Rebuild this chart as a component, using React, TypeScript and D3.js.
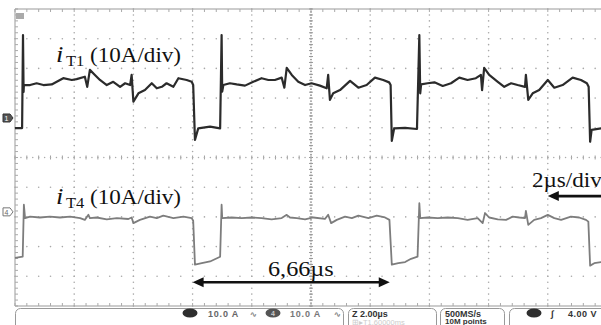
import React from 'react'
import * as d3 from 'd3'

// scope settings: 2 µs/div over 10 divisions, 10 A/div, 10 vertical divisions
const timeSpan = [0, 20]
const divSpan = [-5, 5]
const ampsPerDiv = 10

// ground markers of the two channels, in divisions from the centre line
const ch1Ground = 1.33
const ch4Ground = -1.83

// i_T1 samples: [time µs, current A]
const iT1: [number, number][] = [
  [0, -3.4], [0.24, -3.4], [0.27, 27.9], [0.29, 8.8], [0.3, 11.1], [0.51, 11.1], [0.73, 11.7], [0.96, 11.1],
  [1.24, 11.3], [1.41, 12.2], [1.63, 13.4], [1.92, 12.8], [2.08, 13.1], [2.36, 13.9], [2.44, 10.5], [2.53, 16.2],
  [2.7, 14.5], [2.87, 12.8], [3.1, 11.1], [3.32, 12.2], [3.55, 10.5], [3.72, 11.7], [3.89, 11.1], [3.94, 14.5],
  [4.0, 5.5], [4.17, 8.3], [4.39, 9.4], [4.62, 11.7], [4.79, 10.0], [4.96, 10.5], [5.12, 11.7], [5.35, 10.5],
  [5.52, 13.4], [5.8, 12.8], [5.97, 12.2], [6.02, 11.1], [6.08, -7.4], [6.19, -3.5], [6.59, -2.9], [6.93, -3.5],
  [6.98, 27.9], [7.0, 8.9], [7.04, 11.1], [7.26, 11.7], [7.49, 11.3], [7.77, 10.9], [8.05, 12.2], [8.33, 13.4],
  [8.56, 12.8], [8.78, 12.8], [9.01, 13.6], [9.1, 10.2], [9.18, 16.9], [9.35, 14.5], [9.57, 12.2], [9.8, 11.1],
  [10.02, 11.7], [10.3, 10.9], [10.53, 10.0], [10.58, 14.5], [10.64, 6.1], [10.75, 8.3], [10.98, 9.4], [11.32, 12.5],
  [11.6, 10.2], [11.88, 11.1], [12.16, 13.6], [12.44, 12.8], [12.64, 12.0], [12.69, 11.1], [12.73, -7.7], [12.81, -3.5],
  [13.18, -3.3], [13.58, -3.7], [13.66, 27.9], [13.69, 8.3], [13.72, 11.3], [13.94, 11.7], [14.17, 12.0], [14.45, 10.8],
  [14.73, 11.7], [15.01, 13.6], [15.29, 12.8], [15.57, 13.4], [15.74, 14.5], [15.78, 9.4], [15.85, 16.9], [16.02, 14.5],
  [16.31, 12.2], [16.53, 10.5], [16.76, 11.7], [16.98, 11.1], [17.23, 10.5], [17.26, 14.5], [17.34, 6.1], [17.49, 8.3],
  [17.71, 9.4], [18.0, 12.8], [18.22, 10.2], [18.5, 11.1], [18.84, 13.6], [19.12, 12.8], [19.32, 11.7], [19.38, 10.5],
  [19.43, -8.0], [19.48, -4.0], [19.8, -3.5], [20, -3.5],
]

// i_T4 samples: [time µs, current A]
const iT4: [number, number][] = [
  [0, -15.5], [0.26, -15.1], [0.3, 2.4], [0.34, -2.1], [0.51, -1.6], [0.84, -1.9], [1.18, -1.6], [1.52, -1.9],
  [1.86, -1.6], [2.2, -2.1], [2.36, -2.7], [2.48, -1.0], [2.53, -2.1], [2.76, -1.9], [3.1, -2.5], [3.44, -2.1],
  [3.83, -2.4], [3.94, -1.9], [4.0, -3.8], [4.22, -2.7], [4.56, -1.6], [4.79, -2.1], [5.01, -1.3], [5.35, -2.1],
  [5.69, -1.6], [5.97, -2.1], [6.02, -3.0], [6.08, -17.8], [6.31, -17.3], [6.59, -16.7], [6.93, -15.1],
  [6.98, 2.4], [7.0, -2.1], [7.32, -1.9], [7.66, -2.1], [8.0, -1.9], [8.33, -2.1], [8.67, -2.5], [9.01, -2.1],
  [9.18, -1.0], [9.29, -1.9], [9.52, -2.1], [9.8, -2.5], [10.08, -1.9], [10.47, -2.4], [10.58, -1.0], [10.68, -3.8],
  [10.87, -2.7], [11.15, -1.6], [11.38, -2.1], [11.6, -1.3], [11.94, -2.1], [12.22, -1.3], [12.5, -1.9], [12.65, -2.7],
  [12.73, -17.8], [12.95, -17.3], [13.18, -16.9], [13.38, -15.8], [13.6, -15.1],
  [13.66, 2.9], [13.69, -2.1], [13.94, -1.9], [14.28, -2.1], [14.62, -1.9], [14.96, -2.1], [15.29, -2.7], [15.63, -2.1],
  [15.8, -3.8], [15.88, -0.4], [16.02, -1.9], [16.31, -2.5], [16.59, -2.7], [16.81, -1.6], [17.04, -1.9], [17.23, -2.1],
  [17.26, 0.3], [17.34, -4.4], [17.54, -2.7], [17.77, -2.1], [18.0, -1.0], [18.22, -2.1], [18.45, -2.7], [18.78, -1.6],
  [19.06, -1.9], [19.29, -2.7], [19.37, -3.3], [19.43, -18.1], [19.57, -17.3], [19.8, -16.9], [20, -16.9],
]

// annotations: measured period and the 2 µs/div bar (µs)
const periodMarks = [6.0, 12.66]
const periodLabel = '6,66µs'
const scaleMarks = [18.0, 20.2]
const scaleLabel = '2µs/div'

const serif = '"Liberation Serif", "Times New Roman", serif'
const sans = '"Liberation Sans", Arial, sans-serif'

function Label({ x, y, size, italic = false, children }: any) {
  return (
    <g transform={`translate(${x},${y}) scale(1.1,1)`}>
      <text fontFamily={serif} fontSize={size} fontStyle={italic ? 'italic' : 'normal'} fill="#111">{children}</text>
    </g>
  )
}

function Arrow({ x1, x2, y }: { x1: number; x2: number; y: number }) {
  const h = 11, w = 5
  return (
    <g fill="#111" stroke="#111">
      <line x1={x1 + 4} x2={x2 - 4} y1={y} y2={y} strokeWidth={2.6} />
      <polygon stroke="none" points={`${x1},${y} ${x1 + h},${y - w} ${x1 + h},${y + w}`} />
      <polygon stroke="none" points={`${x2},${y} ${x2 - h},${y - w} ${x2 - h},${y + w}`} />
    </g>
  )
}

export default function App() {
  const width = 601
  const height = 325
  const x = d3.scaleLinear().domain(timeSpan).range([15, 607])
  const y = d3.scaleLinear().domain(divSpan).range([306, 9])

  const trace = (ground: number) =>
    d3.line<[number, number]>()
      .x(d => x(d[0]))
      .y(d => y(ground + d[1] / ampsPerDiv))

  const majorX = d3.range(0, 11).map(i => timeSpan[0] + i * 2)
  const majorY = d3.range(-5, 6)
  const minorT = d3.range(0, 51).map(k => k * 0.4)
  const minorD = d3.range(-25, 26).map(k => k / 5)
  const fineD = d3.range(-50, 51).map(k => k / 10)

  const gridColor = '#a8a8a8'

  const grid: React.ReactNode[] = []
  majorX.forEach((t, i) => {
    const gx = x(t)
    if (i === 0) {
      grid.push(<line key={`fx${i}`} x1={gx} x2={gx} y1={y(5)} y2={y(-5)} stroke="#999" strokeWidth={1} />)
      minorD.forEach((d, k) => grid.push(<line key={`fxt${k}`} x1={gx} x2={gx + 3} y1={y(d)} y2={y(d)} stroke="#aaa" />))
    } else if (i === 5) {
      fineD.forEach((d, k) => grid.push(<circle key={`cx${k}`} cx={gx} cy={y(d)} r={0.85} fill="#888" />))
      minorD.forEach((d, k) => grid.push(<line key={`cxt${k}`} x1={gx - 2} x2={gx + 2} y1={y(d)} y2={y(d)} stroke="#999" />))
    } else {
      minorD.forEach((d, k) => grid.push(<circle key={`vx${i}-${k}`} cx={gx} cy={y(d)} r={0.8} fill={gridColor} />))
    }
  })
  majorY.forEach(j => {
    const gy = y(j)
    if (j === 5 || j === -5) {
      grid.push(<line key={`fy${j}`} x1={x(0)} x2={width} y1={gy} y2={gy} stroke="#999" strokeWidth={1} />)
      minorT.forEach((t, k) => grid.push(
        <line key={`fyt${j}-${k}`} x1={x(t)} x2={x(t)} y1={gy} y2={gy + (j === 5 ? 3 : -3)} stroke="#aaa" />))
    } else if (j === 0) {
      minorT.forEach((t, k) => grid.push(
        <line key={`cyt${k}`} x1={x(t)} x2={x(t)} y1={gy - 2} y2={gy + 2} stroke="#a0a0a0" />))
      d3.range(0, 101).forEach(k => grid.push(
        <circle key={`cyd${k}`} cx={x(k * 0.2)} cy={gy} r={0.75} fill="#aaa" />))
    } else {
      minorT.forEach((t, k) => grid.push(<circle key={`hy${j}-${k}`} cx={x(t)} cy={gy} r={0.8} fill={gridColor} />))
    }
  })

  const periodY = y(-4.2)
  const scaleY = y(-1.3)

  return (
    <svg width={width} height={height} style={{ position: 'fixed', left: 0, top: 0, background: '#fff' }}>
      <rect width={width} height={height} fill="#fff" />
      {grid}

      {/* trigger marker and channel ground markers */}
      <rect x={16} y={13} width={8} height={6} fill="#aaa" />
      <g transform={`translate(3,${y(ch1Ground)})`}>
        <path d="M0,-4 H7 L10,0 L7,4 H0 Z" fill="#555" stroke="#333" />
        <text x={3.5} y={3} fontFamily={sans} fontSize={7} fill="#fff" textAnchor="middle">1</text>
      </g>
      <g transform={`translate(3,${y(ch4Ground)})`}>
        <path d="M0,-4 H7 L10,0 L7,4 H0 Z" fill="#fff" stroke="#777" />
        <text x={3.5} y={3} fontFamily={sans} fontSize={7} fill="#666" textAnchor="middle">4</text>
      </g>

      {/* traces */}
      <path d={trace(ch4Ground)(iT4) || ''} fill="none" stroke="#7d7d7d" strokeWidth={1.8} strokeLinejoin="round" />
      <path d={trace(ch1Ground)(iT1) || ''} fill="none" stroke="#2b2b2b" strokeWidth={2.2} strokeLinejoin="round" />

      {/* labels */}
      <Label x={56} y={62} size={24} italic>i</Label>
      <Label x={66} y={66} size={15}>T1</Label>
      <Label x={90} y={62} size={21}>(10A/div)</Label>
      <Label x={56} y={204} size={24} italic>i</Label>
      <Label x={66} y={208} size={15}>T4</Label>
      <Label x={90} y={204} size={21}>(10A/div)</Label>
      <Label x={532} y={187} size={21}>{scaleLabel}</Label>
      <Label x={268} y={276} size={22}>{periodLabel}</Label>

      <Arrow x1={x(periodMarks[0])} x2={x(periodMarks[1])} y={periodY} />
      <Arrow x1={x(scaleMarks[0])} x2={x(scaleMarks[1])} y={scaleY} />

      {/* status bar */}
      <g fontFamily={sans} fontWeight="bold" fontSize={9}>
        <rect x={15.5} y={308.5} width={328} height={24} rx={5} fill="#fff" stroke="#999" />
        <ellipse cx={190} cy={313} rx={7.5} ry={4.5} fill="#2e2e2e" />
        <text x={208} y={316.5} fill="#666" letterSpacing={0.8}>10.0 A</text>
        <text x={250} y={316.5} fill="#888" fontSize={8}>∿</text>
        <ellipse cx={273} cy={313} rx={7.5} ry={4.5} fill="#555" />
        <text x={273} y={316} fill="#ccc" fontSize={7} textAnchor="middle">4</text>
        <text x={290} y={316.5} fill="#777" letterSpacing={0.8}>10.0 A</text>
        <text x={334} y={316.5} fill="#888" fontSize={8}>∿</text>

        <rect x={348.5} y={308.5} width={88} height={24} rx={5} fill="#fff" stroke="#999" />
        <text x={352} y={316.5} fill="#333">Z 2.00µs</text>
        <text x={352} y={324.5} fill="#ccc" fontWeight="normal" fontSize={7.5}>⊞▸T1.60000ms</text>

        <rect x={440.5} y={308.5} width={64} height={24} rx={5} fill="#fff" stroke="#999" />
        <text x={445} y={316.5} fill="#333">500MS/s</text>
        <text x={445} y={324} fill="#333" fontSize={8}>10M points</text>

        <rect x={509.5} y={308.5} width={100} height={24} rx={5} fill="#fff" stroke="#999" />
        <ellipse cx={534} cy={313} rx={7.5} ry={4.5} fill="#2e2e2e" />
        <text x={551} y={316.5} fill="#333" fontStyle="italic">∫</text>
        <text x={568} y={316.5} fill="#333" letterSpacing={0.5}>4.00 V</text>
      </g>
    </svg>
  )
}
